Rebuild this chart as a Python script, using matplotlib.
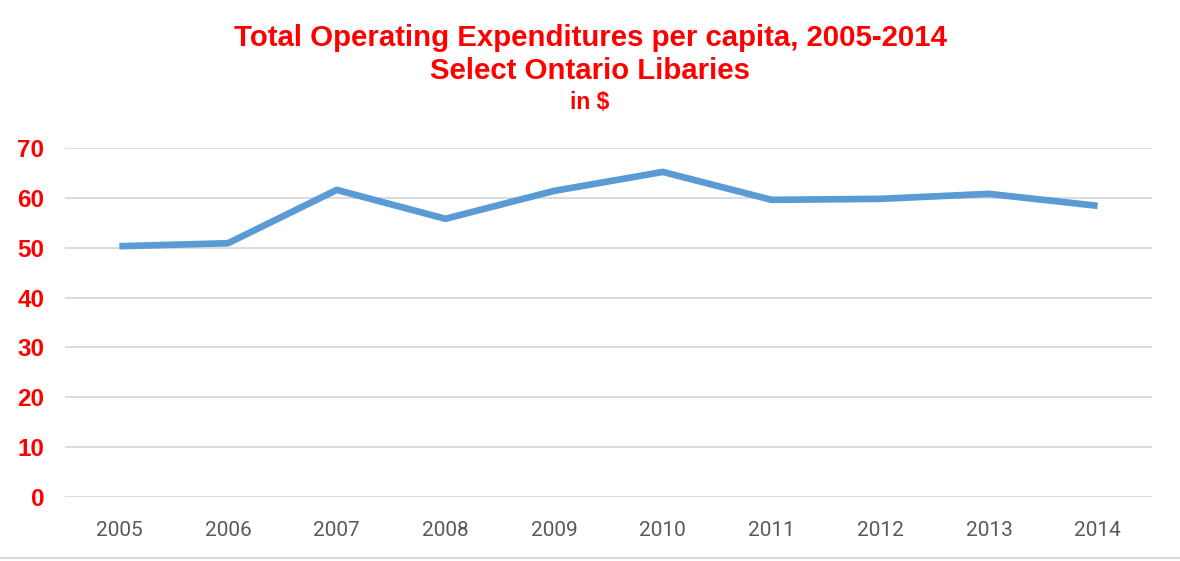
import matplotlib.pyplot as plt
from matplotlib.lines import Line2D

years = ['2005', '2006', '2007', '2008', '2009', '2010', '2011', '2012', '2013', '2014']
spending = [50.3, 50.9, 61.6, 55.8, 61.4, 65.2, 59.6, 59.8, 60.8, 58.4]
yTicks = [0, 10, 20, 30, 40, 50, 60, 70]

W, H = 1180, 561
fig = plt.figure(figsize=(W / 100, H / 100), dpi=100)
ax = fig.add_axes([65 / W, (H - 497) / H, (1152 - 65) / W, (497 - 148) / H])

ax.plot(range(len(years)), spending, color='#5b9bd5', linewidth=4.8, solid_capstyle='butt', zorder=3)

ax.set_xlim(-0.5, len(years) - 0.5)
ax.set_ylim(0, 70)
ax.set_yticks(yTicks)
ax.set_xticks(range(len(years)))
ax.set_xticklabels(years, fontfamily='Roboto', fontsize=15, color='#595959')
ax.set_yticklabels([str(t) for t in yTicks], fontfamily='Liberation Sans', fontsize=17.5,
                   fontweight='bold', color='#ff0000')
ax.tick_params(axis='both', length=0)
ax.tick_params(axis='x', pad=17)
ax.tick_params(axis='y', pad=15)
ax.grid(axis='y', color='#d9d9d9', linewidth=1.3)
ax.set_axisbelow(True)
for s in ax.spines.values():
  s.set_visible(False)

fig.text(590 / W, 1 - 38 / H, 'Total Operating Expenditures per capita, 2005-2014',
         ha='center', va='center', fontfamily='Liberation Sans', fontweight='bold',
         fontsize=21.2, color='#ff0000')
fig.text(590 / W, 1 - 71 / H, 'Select Ontario Libaries',
         ha='center', va='center', fontfamily='Liberation Sans', fontweight='bold',
         fontsize=21.2, color='#ff0000')
fig.text(590 / W, 1 - 102 / H, 'in $',
         ha='center', va='center', fontfamily='Liberation Sans', fontweight='bold',
         fontsize=16.5, color='#ff0000')

fig.add_artist(Line2D([0, 1], [1 - 558 / H, 1 - 558 / H], transform=fig.transFigure,
                      color='#d9d9d9', linewidth=1.5))

fig.savefig('out.png', dpi=100)
